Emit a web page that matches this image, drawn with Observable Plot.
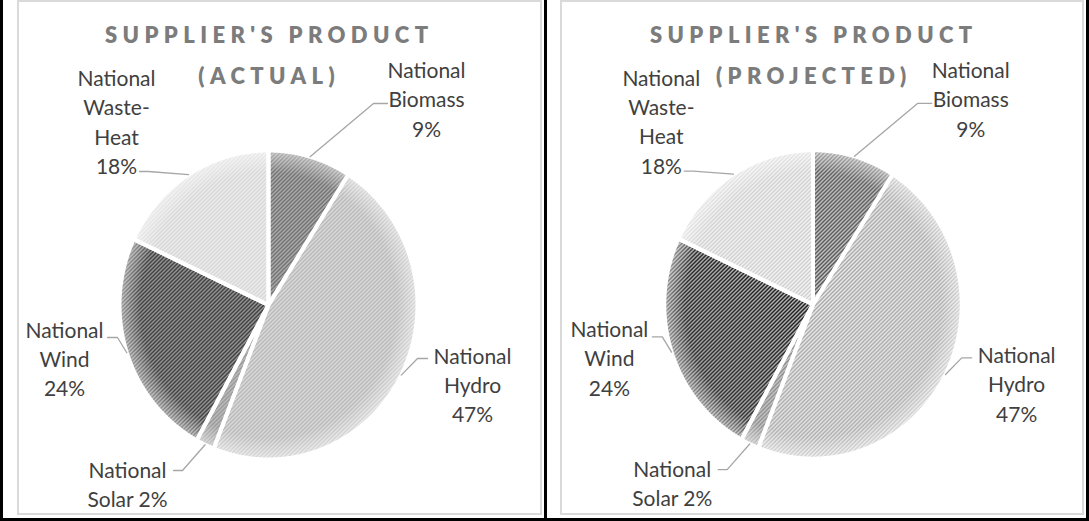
<!DOCTYPE html>
<html>
<head>
<meta charset="utf-8">
<script src="https://cdn.jsdelivr.net/npm/d3@7"></script>
<script src="https://cdn.jsdelivr.net/npm/@observablehq/plot@0.6"></script>
<style>
  html, body { margin: 0; padding: 0; background: #fff; }
  #wrap { position: relative; width: 1089px; height: 521px; background: #fff; overflow: hidden; font-family: Lato, sans-serif; }
  .panel { position: absolute; top: 0; }
  .line { position: absolute; background: #000; }
  .frame { position: absolute; top: 0; height: 515px; border: 2px solid #dadada; box-sizing: border-box; }
</style>
</head>
<body>
<div id="wrap">
  <div class="frame" style="left:17px;width:525px"></div>
  <div class="frame" style="left:560px;width:524px"></div>
  <div id="p0" class="panel" style="left:0px"></div>
  <div id="p1" class="panel" style="left:545px"></div>
  <div class="line" style="left:0;top:0;width:3px;height:521px"></div>
  <div class="line" style="left:544px;top:0;width:3px;height:521px"></div>
  <div class="line" style="left:1086px;top:0;width:3px;height:521px"></div>
  <div class="line" style="left:0;top:518px;width:1089px;height:3px"></div>
</div>
<script>
// ---- data ----
const categories = ["National Biomass", "National Hydro", "National Solar", "National Wind", "National Waste-Heat"];
const actualShares = [9, 47, 2, 24, 18];
const projectedShares = [9, 47, 2, 24, 18];
const panelTitles = ["SUPPLIER'S PRODUCT\n(ACTUAL)", "SUPPLIER'S PRODUCT\n(PROJECTED)"];

// ---- styles / layout ----
const slicePatterns = [
  {bg: "#c6c6c6", fg: "#5a5a5a"}, // Biomass
  {bg: "#ececec", fg: "#a9a9a9"}, // Hydro
  {bg: "#cdcdcd", fg: "#8a8a8a"}, // Solar
  {bg: "#bebebe", fg: "#1c1c1c"}, // Wind
  {bg: "#f5f5f5", fg: "#cfcfcf"}  // Waste-Heat
];
const pctInline = [false, false, true, false, false];
// label block centre, leader knee and leader end: pixel offsets from pie centre
const labelLayout = [
  {dx: 158, dy: -207, knee: [105, -201.5], end: [119, -201.5]},
  {dx: 204, dy: 78.5, knee: [149, 53.5], end: [159, 53.5]},
  {dx: -141, dy: 178, knee: [-86, 165.5], end: [-95, 165.5]},
  {dx: -204, dy: 52.5, knee: [-151, 32.5], end: [-161, 32.5]},
  {dx: -152, dy: -184.5, knee: [-120, -133.5], end: [-129, -133.5]}
];
const W = 545, H = 521, CX = 268, CY = 304.5, RX = 149, RY = 154.5;

function panel(values, title, prefix) {
  const total = d3.sum(values);
  const arcs = d3.pie().sort(null).value(d => d)(values);
  const pts = [];
  arcs.forEach((a, i) => {
    pts.push({i, x: 0, y: 0});
    const n = Math.max(4, Math.ceil((a.endAngle - a.startAngle) / (Math.PI / 360)));
    for (let k = 0; k <= n; k++) {
      const t = a.startAngle + (a.endAngle - a.startAngle) * k / n;
      pts.push({i, x: Math.sin(t), y: Math.cos(t)});
    }
    pts.push({i, x: 0, y: 0});
  });
  const ell = d3.range(0, 361, 1).map(d => ({x: Math.sin(d * Math.PI / 180), y: Math.cos(d * Math.PI / 180)}));
  const leaders = [];
  arcs.forEach((a, i) => {
    const m = (a.startAngle + a.endAngle) / 2;
    const L = labelLayout[i];
    leaders.push({i, x: Math.sin(m), y: Math.cos(m)});
    leaders.push({i, x: L.knee[0] / RX, y: -L.knee[1] / RY});
    leaders.push({i, x: L.end[0] / RX, y: -L.end[1] / RY});
  });
  const labels = categories.map((c, i) => {
    const pct = Math.round(values[i] / total * 100) + "%";
    return c.replace(" ", "\n").replace("-", "-\n") + (pctInline[i] ? " " : "\n") + pct;
  });

  const marks = [];
  arcs.forEach((a, i) => {
    marks.push(Plot.line(pts.filter(p => p.i === i), {x: "x", y: "y", fill: `url(#${prefix}-pat${i})`, stroke: "none", curve: "linear"}));
  });
  marks.push(Plot.line(ell, {x: "x", y: "y", fill: `url(#${prefix}-fade)`, stroke: "none"}));
  marks.push(Plot.line(pts, {x: "x", y: "y", z: "i", stroke: "white", strokeWidth: 4, strokeLinejoin: "round"}));
  marks.push(Plot.line(leaders, {x: "x", y: "y", z: "i", stroke: "#a6a6a6", strokeWidth: 1.3}));
  labels.forEach((t, i) => {
    marks.push(Plot.text([{x: 0, y: 0, t}], {
      x: "x", y: "y", text: "t", dx: labelLayout[i].dx, dy: labelLayout[i].dy,
      fontSize: 21, fill: "#404040", lineHeight: 1.4, textAnchor: "middle", fontFamily: "Lato"
    }));
  });
  marks.push(Plot.text([title], {
    text: d => d, frameAnchor: "top", dy: 12.5, dx: -3.8, lineAnchor: "top",
    fontSize: 22, fontWeight: 800, fill: "#7c7c7c", lineHeight: 1.9, fontFamily: "Lato"
  }));

  const svg = Plot.plot({
    width: W, height: H, margin: 0,
    x: {domain: [-CX / RX, (W - CX) / RX], axis: null},
    y: {domain: [-(H - CY) / RY, CY / RY], axis: null},
    style: {background: "transparent", fontFamily: "Lato", overflow: "visible"},
    marks
  });

  const s = d3.select(svg);
  const defs = s.insert("defs", ":first-child");
  slicePatterns.forEach((p, i) => {
    const pat = defs.append("pattern").attr("id", `${prefix}-pat${i}`)
      .attr("patternUnits", "userSpaceOnUse").attr("width", 4).attr("height", 4);
    pat.append("rect").attr("width", 4).attr("height", 4).attr("fill", p.bg);
    pat.append("path").attr("d", "M-1,1L1,-1M0,4L4,0M3,5L5,3")
      .attr("stroke", p.fg).attr("stroke-width", 1.5).attr("fill", "none");
  });
  const g = defs.append("radialGradient").attr("id", `${prefix}-fade`);
  g.append("stop").attr("offset", "0%").attr("stop-color", "#fff").attr("stop-opacity", 0);
  g.append("stop").attr("offset", "86%").attr("stop-color", "#fff").attr("stop-opacity", 0);
  g.append("stop").attr("offset", "100%").attr("stop-color", "#fff").attr("stop-opacity", 0.5);
  s.selectAll("text").filter(function() { return this.textContent.indexOf("SUPPLIER") >= 0; })
    .style("letter-spacing", "5.4px").attr("letter-spacing", "5.4px");
  return svg;
}

document.getElementById("p0").appendChild(panel(actualShares, panelTitles[0], "a"));
document.getElementById("p1").appendChild(panel(projectedShares, panelTitles[1], "b"));
</script>
</body>
</html>
